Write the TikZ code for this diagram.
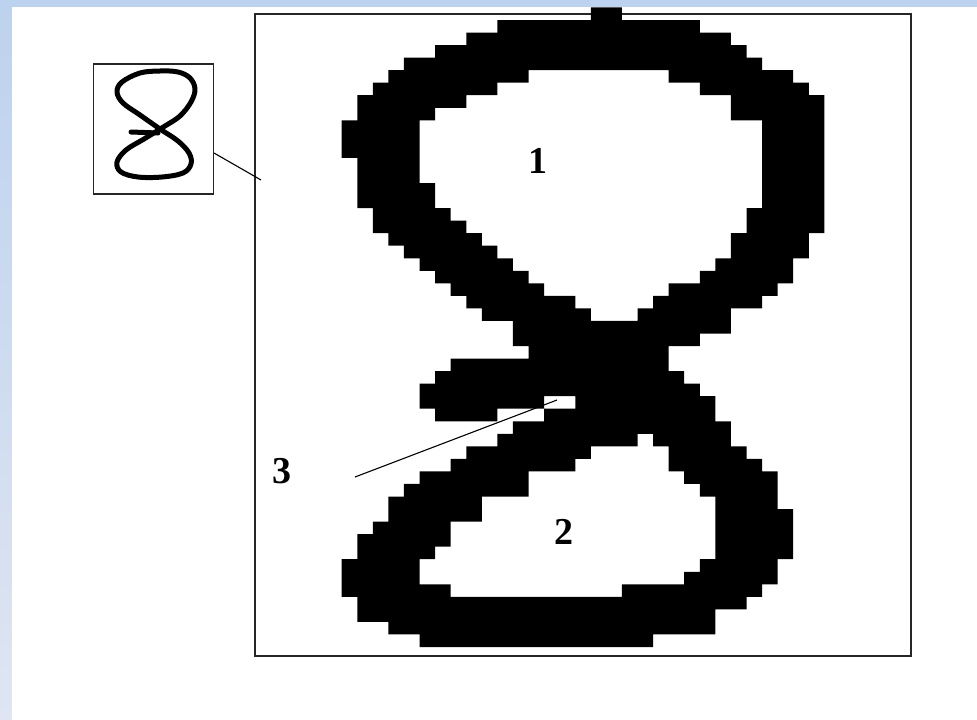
\documentclass[tikz,border=0pt]{standalone}
\usepackage{fontspec}
\setmainfont{Liberation Serif}
\definecolor{bandtop}{RGB}{189,210,238}
\definecolor{bandbot}{RGB}{223,229,242}
\begin{document}
\begin{tikzpicture}[x=1pt,y=-1pt,
  frameline/.style={draw=black!85, line width=1.8pt, inner sep=0pt, outer sep=0pt, anchor=north west},
  thinline/.style={draw=black, line width=1.1pt},
  digit/.style={font=\fontsize{38}{38}\selectfont\bfseries, inner sep=0pt},
  pen/.style={line width=5pt, line cap=round, line join=round}]
\useasboundingbox (0,0) rectangle (977,720);
\fill[white] (0,0) rectangle (977,720);
\shade[top color=bandtop, bottom color=bandbot] (0,0) rectangle (11.7,720);
\fill[bandtop] (0,0) rectangle (977,6.7);

% big frame and thumbnail box
\node[frameline, minimum width=656pt, minimum height=642pt] (frame) at (255,14) {};
\node[frameline, line width=1.3pt, minimum width=120pt, minimum height=130pt] (thumb) at (93.5,64) {};

% small handwritten 8
\draw[pen] plot[smooth cycle, tension=0.6] coordinates {(160,71) (140,73) (122,82) (117,92) (123,103) (140,115) (160,129) (178,141) (189,153) (191,164) (183,173) (162,177) (138,177) (121,172) (117,162) (126,150) (144,139) (165,126) (180,116) (191,102) (195,89) (190,78) (178,72)};
\draw[pen] (131,132) -- (158,133);

% connector from thumbnail to frame
\coordinate (ta) at (214,153);
\coordinate (tb) at (261,180);
\draw[thinline] (ta) -- (tb);

% pixelated big 8
\begin{scope}[shift={(341.7,7.46)}, x=15.57pt, y=-12.54pt]
\fill[black] \foreach \r/\a/\b in {
 0/16/17, 1/10/22, 2/8/24, 3/6/25, 4/4/26,
 5/3/11, 5/21/28, 6/2/9, 6/23/29, 7/1/7, 7/25/30, 8/1/5, 8/25/30,
 9/0/4, 9/27/30, 10/0/4, 10/27/30, 11/0/4, 11/27/30,
 12/1/4, 12/27/30, 13/1/4, 13/27/30, 14/1/5, 14/27/30, 15/1/5, 15/27/30,
 16/2/6, 16/26/30, 17/2/7, 17/26/30, 18/3/8, 18/25/29, 19/4/9, 19/25/29,
 20/5/10, 20/24/28, 21/6/11, 21/23/28, 22/7/12, 22/21/27, 23/8/14, 23/20/26,
 24/9/15, 24/19/24, 25/11/24, 26/11/22, 27/12/20, 28/7/20, 29/6/21, 30/5/22,
 31/5/12, 31/15/23, 32/6/9, 32/13/23, 33/11/24, 34/10/18, 34/20/24,
 35/8/15, 35/21/25, 36/7/14, 36/21/26, 37/5/11, 37/22/27, 38/4/11, 38/23/27,
 39/3/8, 39/24/27, 40/3/8, 40/24/28, 41/2/6, 41/24/28, 42/1/6, 42/24/28,
 43/1/5, 43/24/28, 44/0/4, 44/23/27, 45/0/4, 45/22/27, 46/0/6, 46/18/26,
 47/1/25, 48/1/23, 49/3/23, 50/5/19}
 { (\a,\r) rectangle ({\b+1},{\r+1}) };
\end{scope}

% labels
\node[digit] (n1) at (538,161) {1};
\node[digit] (n2) at (564,532) {2};
\node[digit] (n3) at (282,471) {3};
\coordinate (la) at (355,477);
\coordinate (lb) at (557,400);
\draw[thinline] (la) -- (lb);
\end{tikzpicture}
\end{document}
